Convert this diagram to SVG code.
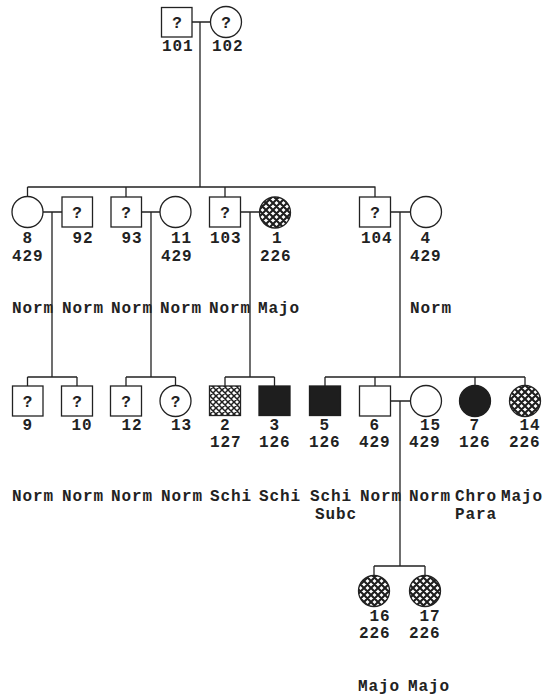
<svg xmlns="http://www.w3.org/2000/svg" width="556" height="699" viewBox="0 0 556 699">
<style>
.sh{fill:#fff;stroke:#222;stroke-width:1.3}
.hc{fill:url(#hatch);stroke:#222;stroke-width:1.3}
.hs{fill:url(#hatch2);stroke:#222;stroke-width:1.3}
.fl{fill:#1e1e1e;stroke:#1e1e1e;stroke-width:1.3}
.ln{fill:none;stroke:#222;stroke-width:1.3}
text{font-family:"Liberation Mono","DejaVu Sans Mono",monospace;font-weight:bold;font-size:16px;letter-spacing:0.9px;fill:#222}
.q{text-anchor:middle;letter-spacing:0}
</style>
<defs>
<pattern id="hatch" patternUnits="userSpaceOnUse" width="7" height="7">
<rect width="7" height="7" fill="#fff"/>
<path d="M0,0L7,7M7,0L0,7M-1,1L1,-1M6,8L8,6M-1,6L1,8M6,-1L8,1" stroke="#1e1e1e" stroke-width="2.1"/>
</pattern>
<pattern id="hatch2" patternUnits="userSpaceOnUse" width="6" height="6">
<rect width="6" height="6" fill="#fff"/>
<path d="M0,0L6,6M6,0L0,6M-1,1L1,-1M5,7L7,5M-1,5L1,7M5,-1L7,1" stroke="#1e1e1e" stroke-width="1.5"/>
</pattern>
</defs>
<rect width="556" height="699" fill="#fff"/>

<g id="connectors" class="ln">
<path d="M192,22H210.5M200,22V187"/>
<path d="M27.5,187H375.5M27.5,187V197M126,187V197M225,187V197M375,187V197"/>
<path d="M43,212H62M52,212V377M27.5,377H77M27.5,377V386M77,377V386"/>
<path d="M141.5,212H160M151,212V377M126,377H175.5M126,377V386M175.5,377V386"/>
<path d="M240.5,212H259.5M250,212V377M225,377H274.5M225,377V386M274.5,377V386"/>
<path d="M390.5,212H410M400,212V377M325,377H525M325,377V386M375,377V386M475,377V386M525,377V386"/>
<path d="M390.5,401H410.5M400,401V566M374,566H425M374,566V576M425,566V576"/>
</g>

<g id="n101"><rect class="sh" x="161.5" y="7.5" width="30.5" height="29.5"/><text class="q" x="177" y="28">?</text><text x="162" y="51">101</text></g>
<g id="n102"><circle class="sh" cx="226" cy="22" r="15.5"/><text class="q" x="226" y="28">?</text><text x="212" y="51">102</text></g>

<g id="n8"><circle class="sh" cx="27.5" cy="212" r="15.5"/><text x="22.5" y="243">8</text><text x="12" y="261">429</text><text x="12" y="313">Norm</text></g>
<g id="n92"><rect class="sh" x="62" y="197" width="30.5" height="30"/><text class="q" x="77" y="218">?</text><text x="72.5" y="243">92</text><text x="62" y="313">Norm</text></g>
<g id="n93"><rect class="sh" x="111" y="197" width="30.5" height="30"/><text class="q" x="126" y="218">?</text><text x="121.5" y="243">93</text><text x="111" y="313">Norm</text></g>
<g id="n11"><circle class="sh" cx="175.5" cy="212" r="15.5"/><text x="171" y="243">11</text><text x="161" y="261">429</text><text x="160" y="313">Norm</text></g>
<g id="n103"><rect class="sh" x="209.5" y="197" width="31" height="30"/><text class="q" x="225" y="218">?</text><text x="210" y="243">103</text><text x="209" y="313">Norm</text></g>
<g id="n1"><circle class="hc" cx="275" cy="212.5" r="15.5"/><text x="272" y="243">1</text><text x="260" y="261">226</text><text x="258" y="313">Majo</text></g>
<g id="n104"><rect class="sh" x="359.5" y="197" width="31" height="30"/><text class="q" x="375" y="218">?</text><text x="361" y="243">104</text></g>
<g id="n4"><circle class="sh" cx="426" cy="212" r="15.5"/><text x="420.5" y="243">4</text><text x="410" y="261">429</text><text x="410" y="313">Norm</text></g>

<g id="n9"><rect class="sh" x="12.5" y="386" width="30.5" height="30"/><text class="q" x="27.5" y="407">?</text><text x="22.5" y="430">9</text><text x="12" y="501">Norm</text></g>
<g id="n10"><rect class="sh" x="61.5" y="386" width="31" height="30"/><text class="q" x="77" y="407">?</text><text x="71.5" y="430">10</text><text x="62" y="501">Norm</text></g>
<g id="n12"><rect class="sh" x="110.5" y="386" width="31" height="30"/><text class="q" x="126" y="407">?</text><text x="121.5" y="430">12</text><text x="111" y="501">Norm</text></g>
<g id="n13"><circle class="sh" cx="175.5" cy="401" r="15.5"/><text class="q" x="175.5" y="407">?</text><text x="171" y="430">13</text><text x="161" y="501">Norm</text></g>
<g id="n2"><rect class="hs" x="209.5" y="386" width="31" height="29.5"/><text x="220" y="430">2</text><text x="210" y="447">127</text><text x="210" y="501">Schi</text></g>
<g id="n3"><rect class="fl" x="259" y="386" width="31" height="29.5"/><text x="269.5" y="430">3</text><text x="259" y="447">126</text><text x="259" y="501">Schi</text></g>
<g id="n5"><rect class="fl" x="309.5" y="386" width="31" height="29.5"/><text x="319.5" y="430">5</text><text x="309" y="447">126</text><text x="310" y="501">Schi</text><text x="315" y="519">Subc</text></g>
<g id="n6"><rect class="sh" x="359.5" y="386" width="31" height="30"/><text x="369.5" y="430">6</text><text x="359" y="447">429</text><text x="360" y="501">Norm</text></g>
<g id="n15"><circle class="sh" cx="426" cy="401" r="15.5"/><text x="420" y="430">15</text><text x="409" y="447">429</text><text x="409" y="501">Norm</text></g>
<g id="n7"><circle class="fl" cx="475" cy="401" r="15.5"/><text x="469.5" y="430">7</text><text x="459" y="447">126</text><text x="455" y="501">Chro</text><text x="455" y="519">Para</text></g>
<g id="n14"><circle class="hc" cx="525" cy="401" r="15.5"/><text x="519.5" y="430">14</text><text x="509" y="447">226</text><text x="501" y="501">Majo</text></g>

<g id="n16"><circle class="hc" cx="374" cy="591" r="15.5"/><text x="369.5" y="621">16</text><text x="359" y="638">226</text><text x="358" y="691">Majo</text></g>
<g id="n17"><circle class="hc" cx="425" cy="591" r="15.5"/><text x="419.5" y="621">17</text><text x="409" y="638">226</text><text x="408" y="691">Majo</text></g>
</svg>
